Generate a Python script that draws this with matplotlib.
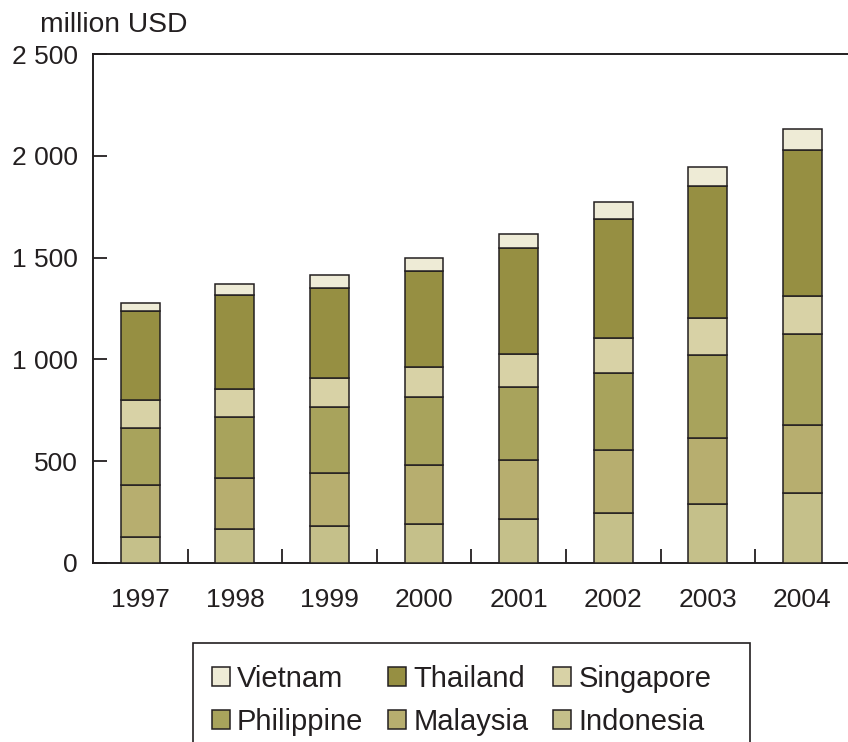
import matplotlib
matplotlib.use("Agg")
import matplotlib.pyplot as plt
from matplotlib.patches import Rectangle
import numpy as np

plt.rcParams['font.family'] = ['Liberation Sans', 'DejaVu Sans']

years = ["1997", "1998", "1999", "2000", "2001", "2002", "2003", "2004"]
indonesia = [128, 167, 180, 194, 218, 246, 292, 346]
malaysia = [254, 251, 262, 286, 290, 308, 320, 334]
philippine = [282, 300, 322, 336, 357, 379, 411, 443]
singapore = [139, 136, 147, 148, 160, 172, 182, 188]
thailand = [436, 462, 441, 472, 524, 583, 647, 718]
vietnam = [39, 53, 62, 61, 66, 87, 92, 102]

series = [
    ("Indonesia", indonesia, "#c5c08a"),
    ("Malaysia", malaysia, "#b7ae6f"),
    ("Philippine", philippine, "#a8a35c"),
    ("Singapore", singapore, "#d8d2a6"),
    ("Thailand", thailand, "#968f42"),
    ("Vietnam", vietnam, "#eeebd6"),
]
ytick_vals = [0, 500, 1000, 1500, 2000, 2500]
ytick_labels = ["0", "500", "1 000", "1 500", "2 000", "2 500"]

W, H = 848, 742
fig = plt.figure(figsize=(W / 100, H / 100), dpi=100)
ax = fig.add_axes([93/W, 1 - 563/H, 1 - 93/W + 0.002, (563 - 54)/H])

x = np.arange(len(years))
bottom = np.zeros(len(years))
handles = {}
edge = "#231f20"
for name, vals, col in series:
    b = ax.bar(x, vals, width=0.41, bottom=bottom, color=col, edgecolor=edge,
               linewidth=1.1, label=name, zorder=3)
    handles[name] = b
    bottom += np.array(vals)

ax.set_xlim(-0.5, 7.5)
ax.set_ylim(0, 2500)
ax.set_yticks(ytick_vals)
ax.set_yticklabels(ytick_labels)
ax.set_xticks(x)
ax.set_xticklabels(years)
ax.set_xticks(np.arange(0.5, 7.5, 1), minor=True)
ax.tick_params(axis='x', which='major', length=0, pad=18, labelsize=19, colors="#231f20")
ax.tick_params(axis='x', which='minor', direction='in', length=10, width=1.3, color=edge)
ax.tick_params(axis='y', direction='in', length=10, width=1.3, pad=11, labelsize=19,
               colors="#231f20", color=edge)
ax.spines['right'].set_visible(False)
for s in ['left', 'top', 'bottom']:
    ax.spines[s].set_linewidth(1.4)
    ax.spines[s].set_color(edge)

fig.text(40/W, 1 - 25/H, "million USD", fontsize=20.3, color="#231f20",
         ha='left', va='center')

order = ["Vietnam", "Philippine", "Thailand", "Malaysia", "Singapore", "Indonesia"]
leg = fig.legend([handles[n] for n in order], order, ncol=3,
                 loc='upper left', bbox_to_anchor=(193/W, 1 - 646/H),
                 fontsize=21, frameon=False,
                 handlelength=0.62, handleheight=0.62, handletextpad=0.24,
                 columnspacing=0.85, labelspacing=0.52, borderpad=0.65,
                 borderaxespad=0)
for t in leg.get_texts():
    t.set_color("#231f20")

fig.patches.append(Rectangle((193/W, 1 - 746/H), (750 - 193)/W, (746 - 643)/H,
                             transform=fig.transFigure, fill=False,
                             edgecolor=edge, linewidth=1.2))

fig.savefig("out.png", dpi=100)
